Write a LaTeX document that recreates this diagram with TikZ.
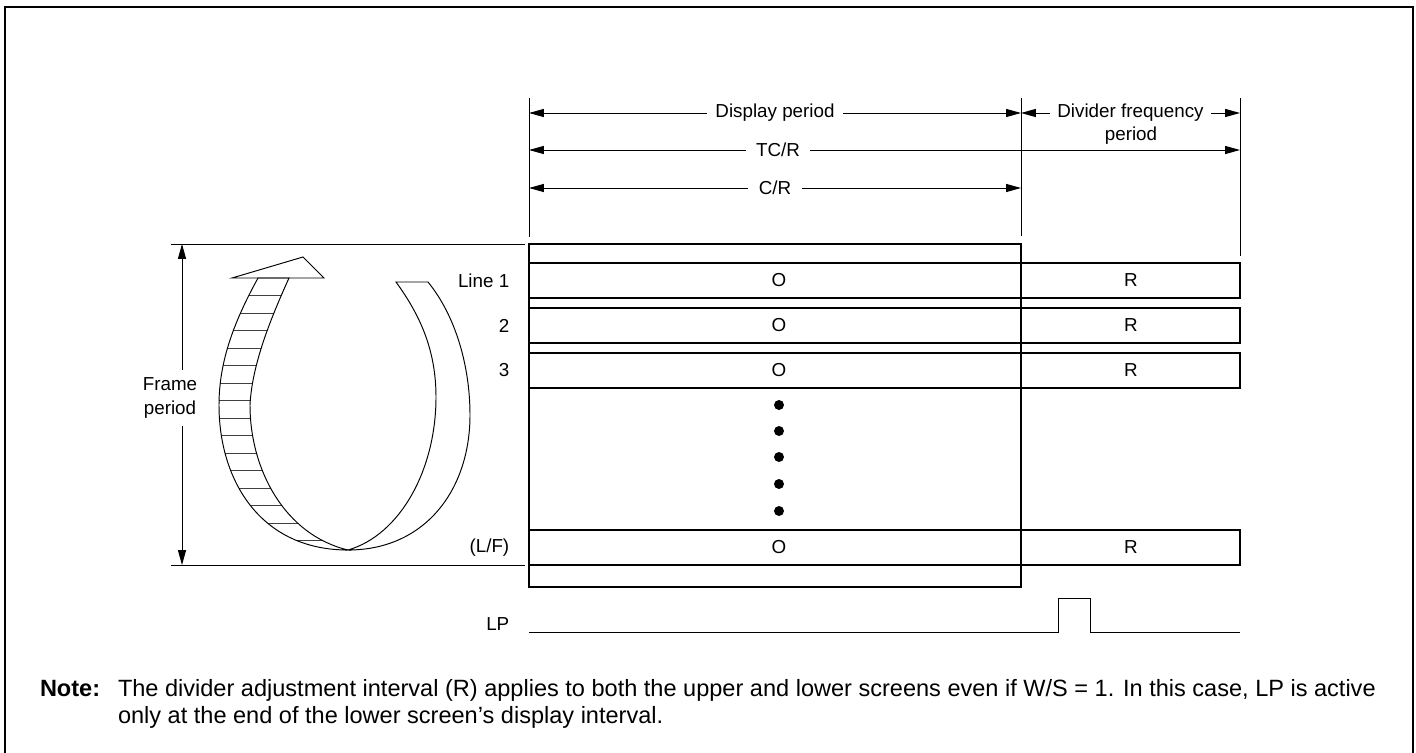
\documentclass[tikz,border=0pt]{standalone}
\usepackage{fontspec}
\setmainfont{Liberation Sans}
\usetikzlibrary{arrows.meta}
\newcommand{\leftband}{(289,278) .. controls (270,320) and (252,365) .. (250,405)
  .. controls (250,470) and (285,535) .. (348,550)
  .. controls (260,550) and (219,480) .. (219,405)
  .. controls (219,360) and (235,320) .. (258,278) -- cycle}
\begin{document}
\begin{tikzpicture}[x=0.02cm,y=-0.02cm,>={Triangle[length=8.5pt,width=4.6pt]},
  every node/.style={font=\fontsize{10.7}{12.8}\selectfont,fill=white,inner sep=1pt,outer sep=0pt},
  thin line/.style={line width=0.55pt},
  box line/.style={line width=0.9pt},
  hatch line/.style={line width=0.45pt,black!75},
  note text/.style={font=\fontsize{13.4}{16}\selectfont,anchor=base west,inner sep=0pt}]
  \useasboundingbox (0,0) rectangle (1416,753);
  \draw[line width=1.4pt] (5,753) -- (5,7) -- (1413,7) -- (1413,753);
  \coordinate (DL) at (529,98);
  \coordinate (DM) at (1021,98);
  \coordinate (DR) at (1240,98);
  \coordinate (FT) at (182,244);
  \coordinate (FB) at (182,565);
  % extension lines
  \draw[thin line] (DL) -- (529,237);
  \draw[thin line] (DM) -- (1021,236);
  \draw[thin line] (DR) -- (1240,256);
  \draw[thin line] (171,244) -- (525,244);
  \draw[thin line] (171,565) -- (525,565);
  % periods
  \draw[thin line,<->] (529,113) -- node[inner xsep=5pt] (disp) {Display period} (1021,113);
  \draw[thin line,<->] (1021,113) -- node[inner xsep=4pt] (divf) {Divider frequency} (1240,113);
  \node (divp) at (1131,136) {period};
  \draw[thin line,<->] (529,150) -- (1240,150);
  \node[inner xsep=6pt] (tcr) at (778,150) {TC/R};
  \draw[thin line,<->] (529,188) -- node[inner xsep=6pt] (cr) {C/R} (1021,188);
  \draw[thin line,<->] (FT) -- (FB);
  \node[align=center,inner ysep=4pt,font=\fontsize{10.7}{14}\selectfont] (frame) at (170,398) {Frame\\period};
  % screen
  \draw[box line] (529,244) rectangle (1021,587);
  \foreach \y/\lab/\i in {263/{Line 1}/1, 308/2/2, 353/3/3, 530/{(L/F)}/4} {
    \draw[box line] (529,\y) rectangle (1240,\y+35);
    \node (o\i) at (779,\y+17.5) {O};
    \node (r\i) at (1131,\y+17.5) {R};
    \node[anchor=east] (line\i) at (511,\y+17.5) {\lab};
  }
  \foreach \y in {405,431,457,484,511}
    \fill (779,\y) circle (0.1cm);
  % scan arrow
  \begin{scope}
    \clip \leftband;
    \foreach \k in {1,...,15}
      \draw[hatch line] (200,278+17.5*\k) -- (360,278+17.5*\k);
  \end{scope}
  \draw[thin line] \leftband;
  \draw[thin line] (232,278) -- (303,257) -- (324,278) -- cycle;
  \draw[thin line] (396,282) .. controls (420,315) and (436,350) .. (436,397)
    .. controls (436,470) and (400,535) .. (348,550)
    .. controls (425,550) and (470,490) .. (470,415)
    .. controls (470,365) and (455,315) .. (428,282) -- cycle;
  % LP
  \node[anchor=east] (lp) at (511,624) {LP};
  \draw[thin line] (529,632) -- (1058,632) -- (1058,598) -- (1090,598) -- (1090,632) -- (1240,632);
  \node[note text,font=\fontsize{13.4}{16}\selectfont\bfseries] (note) at (40,696) {Note:};
  \node[note text] (notea) at (118,696) {The divider adjustment interval (R) applies to both the upper and lower screens even if W/S = 1. In this case, LP is active};
  \node[note text] (noteb) at (118,723) {only at the end of the lower screen’s display interval.};
\end{tikzpicture}
\end{document}
